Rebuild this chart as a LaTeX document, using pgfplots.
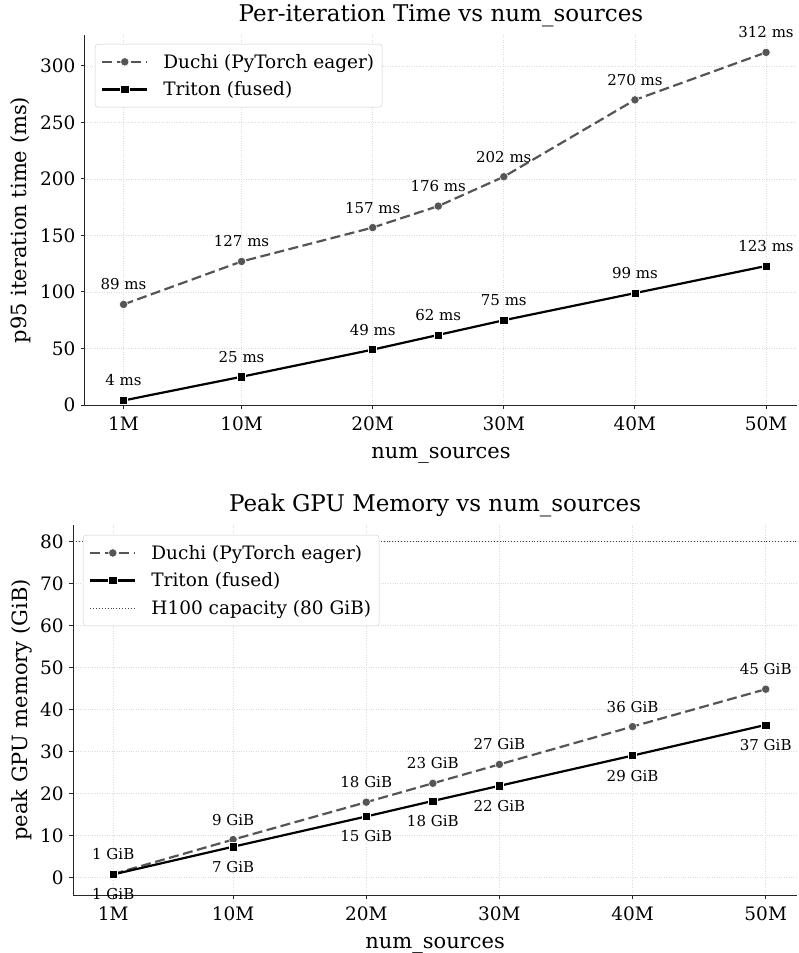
\documentclass[border=0pt]{standalone}
\usepackage{fontspec}
\setmainfont{DejaVu Serif}
\usepackage{pgfplots}
\pgfplotsset{compat=1.18}
\definecolor{duchi}{HTML}{555555}
\definecolor{gridc}{HTML}{DCDCDC}
\pgfplotsset{
  mpl/.style={
    scale only axis,
    axis x line*=bottom, axis y line*=left,
    axis line style={line width=1pt, color=black!85, -},
    tick align=outside,
    major tick length=4pt,
    tick style={line width=1pt, color=black!85},
    grid=major,
    grid style={dotted, line width=0.7pt, color=gridc},
    /pgf/number format/assume math mode=true,
    ticklabel style={font=\fontsize{18.5}{22}\selectfont},
    yticklabel style={xshift=-2pt},
    xticklabel style={yshift=-4pt},
    label style={font=\fontsize{21}{25}\selectfont},
    title style={font=\fontsize{23}{27}\selectfont, at={(0.5,1)}, anchor=base, yshift=8pt},
    xtick={1,10,20,30,40,50},
    xticklabels={1M,10M,20M,30M,40M,50M},
    xlabel={num\_sources},
    xlabel style={at={(0.5,0)}, anchor=base, yshift=-53pt},
    legend cell align=left,
    legend style={draw=black!20, rounded corners=3pt, font=\fontsize{18.5}{22}\selectfont,
      inner xsep=6pt, inner ysep=8pt, row sep=8pt, anchor=north west,
      /tikz/every odd column/.append style={column sep=13pt}},
    legend image code/.code={\draw[mark repeat=2,mark phase=2] plot coordinates {(0pt,0pt) (22.5pt,0pt) (45pt,0pt)};},
    clip=false,
  },
  duchi/.style={color=duchi, line width=2.2pt, dash pattern=on 10pt off 4.5pt, mark=*, mark size=4.2pt, mark options={solid, fill=duchi, draw=white, line width=0.6pt}},
  triton/.style={black, line width=2.2pt, solid, mark=square*, mark size=4.1pt, mark options={solid, fill=black, draw=white, line width=0.6pt}},
  lab/.style={nodes near coords={\pgfplotspointmeta}, point meta=explicit symbolic,
     every node near coord/.append style={font=\fontsize{15}{18}\selectfont, text=black, anchor=center, yshift=#1}},
}
\begin{document}
\begin{tikzpicture}
\useasboundingbox (0,0) rectangle (798pt,-953pt);
\begin{axis}[mpl, at={(85pt,-35pt)}, anchor=north west, width=712pt, height=370pt,
  xmin=-1.94, xmax=52.36, ymin=0, ymax=327.4, ytick={0,50,100,150,200,250,300},
  title={Per-iteration Time vs num\_sources},
  ylabel={p95 iteration time (ms)},
  ylabel style={at={(0,0.5)}, anchor=center, yshift=64pt},
  legend style={at={(0.014,0.976)}}]
\addplot[duchi, lab=20pt] coordinates {(1,89)[89 ms] (10,127)[127 ms] (20,157)[157 ms] (25,176)[176 ms] (30,202)[202 ms] (40,270)[270 ms] (50,312)[312 ms]};
\addlegendentry{Duchi (PyTorch eager)}
\addplot[triton, lab=20pt] coordinates {(1,4)[4 ms] (10,25)[25 ms] (20,49)[49 ms] (25,62)[62 ms] (30,75)[75 ms] (40,99)[99 ms] (50,123)[123 ms]};
\addlegendentry{Triton (fused)}
\end{axis}
\begin{axis}[mpl, at={(73.3pt,-525pt)}, anchor=north west, width=723.7pt, height=370pt,
  xmin=-2.0, xmax=52.35, ymin=-4.1, ymax=84, ytick={0,10,20,30,40,50,60,70,80},
  title={Peak GPU Memory vs num\_sources},
  ylabel={peak GPU memory (GiB)},
  ylabel style={at={(0,0.5)}, anchor=center, yshift=51pt},
  legend style={at={(0.0134,0.973)}}]
\addplot[duchi, lab=20pt] coordinates {(1,0.9)[1 GiB] (10,9.1)[9 GiB] (20,18)[18 GiB] (25,22.5)[23 GiB] (30,27)[27 GiB] (40,36)[36 GiB] (50,44.9)[45 GiB]};
\addlegendentry{Duchi (PyTorch eager)}
\addplot[triton, lab=-20pt] coordinates {(1,0.8)[1 GiB] (10,7.4)[7 GiB] (20,14.6)[15 GiB] (25,18.3)[18 GiB] (30,21.9)[22 GiB] (40,29.1)[29 GiB] (50,36.4)[37 GiB]};
\addlegendentry{Triton (fused)}
\addplot[black!75, dotted, line width=0.9pt, mark=none] coordinates {(-2.0,80) (52.35,80)};
\addlegendentry{H100 capacity (80 GiB)}
\end{axis}
\end{tikzpicture}
\end{document}
